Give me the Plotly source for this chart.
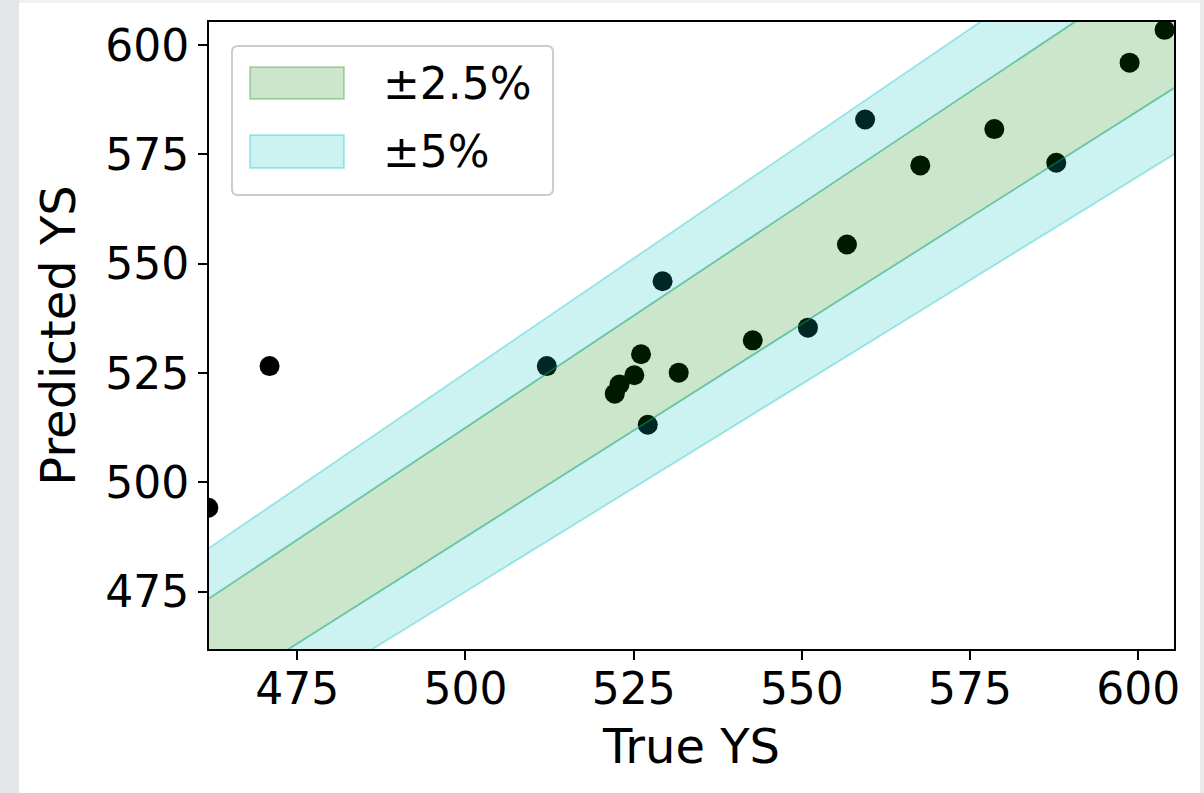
import plotly.graph_objects as go

# ---- data ----
true_ys = [461.8, 470.9, 512.1, 529.3, 526.1, 525.1, 522.9, 522.2, 531.7, 527.1,
           542.7, 550.9, 556.7, 559.4, 567.6, 578.6, 587.8, 598.7, 603.9]
pred_ys = [494.2, 526.6, 526.6, 546.0, 529.3, 524.5, 522.4, 520.3, 525.1, 513.2,
           532.5, 535.4, 554.4, 583.0, 572.5, 580.8, 573.1, 596.0, 603.5]
tick_vals = [475, 500, 525, 550, 575, 600]
tick_text = ["475", "500", "525", "550", "575", "600"]
band_inner = 0.025
band_outer = 0.05
legend_labels = ["±2.5%", "±5%"]

# ---- layout geometry ----
FIG_W, FIG_H = 1204, 793
L, R, T, B = 209, 1174, 22, 649
PW, PH = R - L, B - T
AX_MIN, AX_MAX = 461.9, 605.3
FONT = "DejaVu Sans"

GREEN_FILL = "rgba(0,128,0,0.2)"
CYAN_FILL = "rgba(0,191,191,0.2)"


def px(p):
    return (p - L) / PW


def py(p):
    return (B - p) / PH


fig = go.Figure()

# scatter points (drawn first so the bands tint them)
fig.add_trace(go.Scatter(
    x=true_ys, y=pred_ys, mode="markers",
    marker=dict(color="black", size=20, line=dict(width=0)),
    showlegend=False, hoverinfo="x+y"))

xs = [440.0, 630.0]


def band(lo, hi, color, name):
    x_poly = [xs[0], xs[1], xs[1], xs[0], xs[0]]
    y_poly = [xs[0] * hi, xs[1] * hi, xs[1] * lo, xs[0] * lo, xs[0] * hi]
    fig.add_trace(go.Scatter(x=x_poly, y=y_poly, mode="lines", fill="toself",
                             fillcolor=color, line=dict(width=0),
                             showlegend=False, name=name, hoverinfo="skip"))


# cyan outer strips, green inner band
band(1 + band_inner, 1 + band_outer, CYAN_FILL, "+5%")
band(1 - band_outer, 1 - band_inner, CYAN_FILL, "-5%")
band(1 - band_inner, 1 + band_inner, GREEN_FILL, "±2.5%")

# band edges
for f, col in [(1 + band_outer, "rgba(0,191,191,0.35)"), (1 - band_outer, "rgba(0,191,191,0.35)"),
               (1 + band_inner, "rgba(0,160,110,0.5)"), (1 - band_inner, "rgba(0,160,110,0.5)")]:
    fig.add_trace(go.Scatter(x=xs, y=[v * f for v in xs], mode="lines",
                             line=dict(color=col, width=1.8),
                             showlegend=False, hoverinfo="skip"))

axis_common = dict(
    range=[AX_MIN, AX_MAX], tickmode="array", tickvals=tick_vals, ticktext=tick_text,
    showline=True, linecolor="black", linewidth=2, mirror=True,
    ticks="outside", ticklen=9, tickwidth=2, tickcolor="black",
    showgrid=False, zeroline=False,
    tickfont=dict(family=FONT, size=44, color="black"),
)

shapes = []
# page border artifacts
shapes.append(dict(type="rect", xref="paper", yref="paper",
                   x0=px(0), x1=px(19), y0=py(FIG_H), y1=py(0),
                   fillcolor="#e4e6ea", line=dict(width=0), layer="below"))
shapes.append(dict(type="rect", xref="paper", yref="paper",
                   x0=px(19), x1=px(FIG_W), y0=py(3), y1=py(0),
                   fillcolor="#f0f1f5", line=dict(width=0), layer="below"))
shapes.append(dict(type="rect", xref="paper", yref="paper",
                   x0=px(1200), x1=px(FIG_W), y0=py(FIG_H), y1=py(0),
                   fillcolor="#eaeaea", line=dict(width=0), layer="below"))

# custom legend frame (rounded)
lx0, lx1, ly0, ly1, rr = 232, 553, 46, 195, 6
path = (f"M {px(lx0 + rr)},{py(ly0)} L {px(lx1 - rr)},{py(ly0)} "
        f"Q {px(lx1)},{py(ly0)} {px(lx1)},{py(ly0 + rr)} "
        f"L {px(lx1)},{py(ly1 - rr)} Q {px(lx1)},{py(ly1)} {px(lx1 - rr)},{py(ly1)} "
        f"L {px(lx0 + rr)},{py(ly1)} Q {px(lx0)},{py(ly1)} {px(lx0)},{py(ly1 - rr)} "
        f"L {px(lx0)},{py(ly0 + rr)} Q {px(lx0)},{py(ly0)} {px(lx0 + rr)},{py(ly0)} Z")
shapes.append(dict(type="path", xref="paper", yref="paper", path=path,
                   fillcolor="rgba(255,255,255,0.85)", line=dict(color="#cccccc", width=2),
                   layer="above"))
patch_rows = [(67, 99, GREEN_FILL, "rgba(0,128,0,0.25)"),
              (135, 168, CYAN_FILL, "rgba(0,191,191,0.3)")]
annotations = []
for (y0, y1, fc, lc), lab in zip(patch_rows, legend_labels):
    shapes.append(dict(type="rect", xref="paper", yref="paper",
                       x0=px(250), x1=px(344), y0=py(y1), y1=py(y0),
                       fillcolor=fc, line=dict(color=lc, width=2), layer="above"))
    annotations.append(dict(xref="paper", yref="paper", x=px(381), y=py((y0 + y1) / 2),
                            text=lab, showarrow=False, xanchor="left", yanchor="middle",
                            font=dict(family=FONT, size=44, color="black")))

fig.update_layout(
    width=FIG_W, height=FIG_H, autosize=False,
    margin=dict(l=L, r=FIG_W - R, t=T, b=FIG_H - B, pad=0),
    paper_bgcolor="white", plot_bgcolor="white",
    xaxis=dict(**axis_common, ticklabelstandoff=-9,
               title=dict(text="True YS", font=dict(family=FONT, size=48, color="black"),
                          standoff=17)),
    yaxis=dict(**axis_common, title=dict(text="Predicted YS", font=dict(family=FONT, size=48, color="black"),
                                         standoff=14)),
    shapes=shapes, annotations=annotations,
    showlegend=False,
)

fig.write_html("out.html")
